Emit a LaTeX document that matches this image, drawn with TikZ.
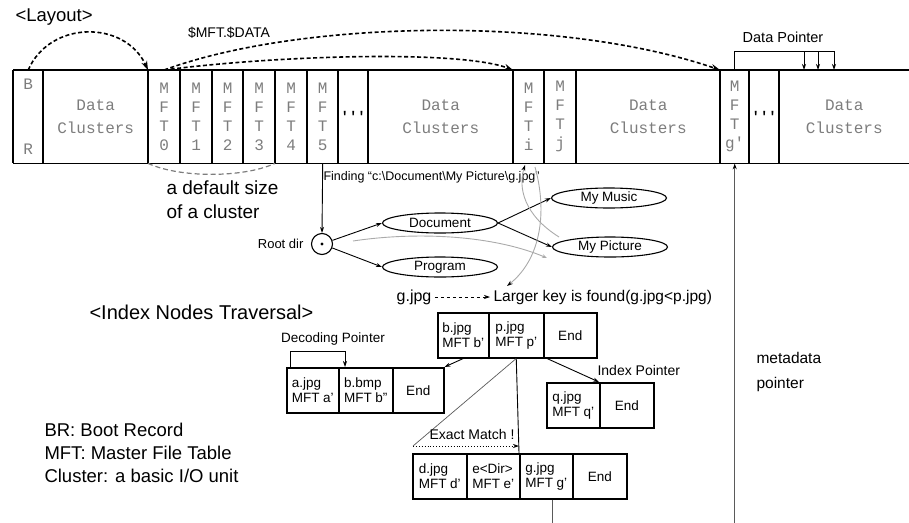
\documentclass[tikz,border=0pt]{standalone}
\usepackage{fontspec}
\setmainfont{Liberation Sans}
\setmonofont{Liberation Mono}
\usepackage{tikz}
\usetikzlibrary{arrows.meta,calc,positioning,shapes.geometric}
\definecolor{CellGray}{RGB}{125,125,125}
\definecolor{TraceGray}{RGB}{170,170,170}
\definecolor{MetaGray}{RGB}{90,90,90}

\tikzset{
	barcell/.style={anchor=north west, inner sep=0pt, minimum height=93, text=CellGray, align=center, font=\ttfamily\fontsize{16}{19}\selectfont},
	divider/.style={line width=2.6pt},
	keycell/.style={draw, line width=1.5pt, anchor=north west, inner sep=0pt, minimum height=45, align=left, font=\fontsize{13.5}{15}\selectfont},
	dirnode/.style={draw, ellipse, line width=1.1pt, minimum width=115, minimum height=20, inner sep=0pt, font=\fontsize{13.5}{15}\selectfont},
	linkarc/.style={line width=1.6pt, dash pattern=on 4pt off 2.5pt, -{Stealth[length=9pt,width=6pt]}},
	ptr/.style={line width=0.9pt, -{Stealth[length=6pt,width=4pt]}},
	trace/.style={TraceGray, line width=0.9pt},
	lbl/.style={font=\fontsize{14}{16}\selectfont}
}

\begin{document}
\begin{tikzpicture}[x=1pt, y=-1pt]
	\useasboundingbox (0,0) rectangle (909,522);
	% disk layout bar
	\node[barcell, minimum width=30] (br) at (13,70) {B\\[46pt]R};
	\node[barcell, minimum width=105] (dc1) at (43,70) {Data\\[4pt]Clusters};
	\node[barcell, minimum width=32] (mft0) at (148,70) {M\\F\\T\\0};
	\node[barcell, minimum width=32] (mft1) at (180,70) {M\\F\\T\\1};
	\node[barcell, minimum width=31] (mft2) at (212,70) {M\\F\\T\\2};
	\node[barcell, minimum width=32] (mft3) at (243,70) {M\\F\\T\\3};
	\node[barcell, minimum width=32] (mft4) at (275,70) {M\\F\\T\\4};
	\node[barcell, minimum width=31] (mft5) at (307,70) {M\\F\\T\\5};
	\node[barcell, minimum width=30, text=black, font=\ttfamily\bfseries\fontsize{14}{16}\selectfont] (dots1) at (338,70) {'''};
	\node[barcell, minimum width=145] (dc2) at (368,70) {Data\\[4pt]Clusters};
	\node[barcell, minimum width=31] (mfti) at (513,70) {M\\F\\T\\i};
	\node[barcell, minimum width=32] (mftj) at (544,70) {M\\F\\T\\j};
	\node[barcell, minimum width=144] (dc3) at (576,70) {Data\\[4pt]Clusters};
	\node[barcell, minimum width=29] (mftg) at (720,70) {M\\F\\T\\g'};
	\node[barcell, minimum width=30, text=black, font=\ttfamily\bfseries\fontsize{14}{16}\selectfont] (dots2) at (749,70) {'''};
	\node[barcell, minimum width=130] (dc4) at (779,70) {Data\\[4pt]Clusters};
	\draw[line width=1.8pt] (br.north west) -- (dc4.north east);
	\draw[line width=1.8pt] (br.south west) -- (dc4.south east);
	\foreach \c in {br,dc1,mft0,mft1,mft2,mft3,mft4,mft5,dots1,dc2,mfti,mftj,dc3,mftg,dots2,dc4}
		\draw[divider] (\c.north west) -- (\c.south west);

	\node[anchor=west, font=\fontsize{18.5}{22}\selectfont] (layout) at (12,17) {<Layout>};
	\node[font=\fontsize{14}{16}\selectfont] (mftdata) at (229,33) {\$MFT.\$DATA};
	\draw[linkarc] (br.north) .. controls (50,20) and (125,20) .. (mft0.north west);
	\draw[linkarc] (mft0.north) .. controls (280,55) and (460,50) .. (mfti.north west);
	\draw[linkarc] (mft0.north) .. controls (300,20) and (560,15) .. (mftg.north west);

	% data pointer
	\node[font=\fontsize{14.5}{17}\selectfont] (dptxt) at (783,37) {Data Pointer};
	\coordinate (dp1) at (804,70);
	\coordinate (dp2) at (818,70);
	\coordinate (dp3) at (834,70);
	\draw[ptr] (mftg.north) -- ++(0,-19) -| (dp3);
	\draw[ptr] ($(dp1)+(0,-19)$) -- (dp1);
	\draw[ptr] ($(dp2)+(0,-19)$) -- (dp2);

	% cluster size
	\draw[CellGray, line width=1.2pt, dash pattern=on 5pt off 3pt] (mft0.south west) .. controls (180,178) and (243,178) .. (mft4.south west);
	\node[anchor=west, align=left, font=\fontsize{19}{24}\selectfont] (sizelbl) at (163,200) {a default size\\of a cluster};

	% directory tree
	\node[circle, draw, line width=1.1pt, minimum size=21, inner sep=0pt] (root) at (322,244) {};
	\fill (root.center) circle (1.7);
	\node[left=4pt of root, font=\fontsize{13}{15}\selectfont] (rootlbl) {Root dir};
	\draw[ptr] (mft5.south) -- (root.north);
	\node[anchor=west, font=\fontsize{12.5}{14}\selectfont] (findlbl) at (320,177) {Finding ``c:\textbackslash Document\textbackslash My Picture\textbackslash g.jpg''};
	\node[dirnode] (doc) at (440,223) {Document};
	\node[dirnode] (prog) at (440,267) {Program};
	\node[dirnode] (music) at (609,198) {My Music};
	\node[dirnode] (pict) at (610,247) {My Picture};
	\draw[ptr] (root) -- (doc.west);
	\draw[ptr] (root) -- (prog.west);
	\draw[ptr] (doc.east) -- (music.west);
	\draw[ptr] (doc.east) -- (pict.west);
	\draw[trace, -{Stealth[length=5pt,width=4pt]}] (353,241) .. controls (420,231) and (495,236) .. (547,258);
	\draw[trace, -{Stealth[length=6pt,width=4pt,color=black]}] (559,237) .. controls (524,215) and (518,188) .. (525,165);
	\draw[trace, -{Stealth[length=6pt,width=4pt,color=black]}] (535,167) .. controls (547,210) and (542,258) .. (507,286);

	% index nodes
	\node[anchor=west, font=\fontsize{20}{24}\selectfont] (idxtitle) at (86,312) {<Index Nodes Traversal>};
	\node[font=\fontsize{16}{18}\selectfont] (gkey) at (414,297) {g.jpg};
	\node[anchor=west, font=\fontsize{15.5}{18}\selectfont] (larger) at (490,297) {Larger key is found(g.jpg<p.jpg)};
	\draw[ptr, dashed, line width=0.7pt] (gkey.east) -- (larger.west);

	\node[keycell, minimum width=51] (bjpg) at (437,312) {b.jpg\\MFT b'};
	\node[keycell, minimum width=55] (pjpg) at (488,312) {p.jpg\\MFT p'};
	\node[keycell, minimum width=53] (endp) at (543,312) {End};

	\node[keycell, minimum width=52] (ajpg) at (286,367) {a.jpg\\MFT a'};
	\node[keycell, minimum width=54] (bbmp) at (338,367) {b.bmp\\MFT b''};
	\node[keycell, minimum width=51] (enda) at (392,367) {End};

	\node[keycell, minimum width=53] (qjpg) at (546,382) {q.jpg\\MFT q'};
	\node[keycell, minimum width=54] (endq) at (599,382) {End};

	\node[keycell, minimum width=54] (djpg) at (412,453) {d.jpg\\MFT d'};
	\node[keycell, minimum width=53] (edir) at (466,453) {e<Dir>\\MFT e'};
	\node[keycell, minimum width=53] (gjpg) at (519,453) {g.jpg\\MFT g'};
	\node[keycell, minimum width=54] (endd) at (572,453) {End};

	\draw[ptr] (bjpg.south) -- (enda.north east);
	\draw[ptr] ($(endp.south west)+(4,0)$) -- (endq.north west);
	\node[anchor=west, lbl] (idxptr) at (594,370) {Index Pointer};

	\node[font=\fontsize{13.5}{15}\selectfont] (decptr) at (333,339) {Decoding Pointer};
	\draw[ptr, line width=0.7pt] ($(ajpg.north west)+(4,0)$) -- ++(0,-16) -| ($(bbmp.north west)+(7,0)$);

	\coordinate (em) at ($(djpg.north west)+(1,-7)$);
	\draw[MetaGray, line width=0.7pt] (pjpg.south) -- (em);
	\draw[line width=0.9pt] (pjpg.south) -- (gjpg.north west);
	\draw[ptr, dotted, line width=0.8pt] (em) -- (em -| gjpg.north west);
	\node[lbl] (exact) at (472,434) {Exact Match !};

	% metadata pointer
	\draw[MetaGray, line width=0.9pt, -{Stealth[length=6pt,width=4pt,color=black]}] ($(gjpg.south)+(6,0)$) -- ++(0,45) -| (mftg.south);
	\node[anchor=west, align=left, font=\fontsize{15.5}{25}\selectfont] (metalbl) at (753,372) {metadata\\pointer};

	% legend
	\node[anchor=west, align=left, font=\fontsize{18.5}{23}\selectfont] (legend) at (41,453) {BR: Boot Record\\MFT: Master File Table\\Cluster: a basic I/O unit};
\end{tikzpicture}
\end{document}
